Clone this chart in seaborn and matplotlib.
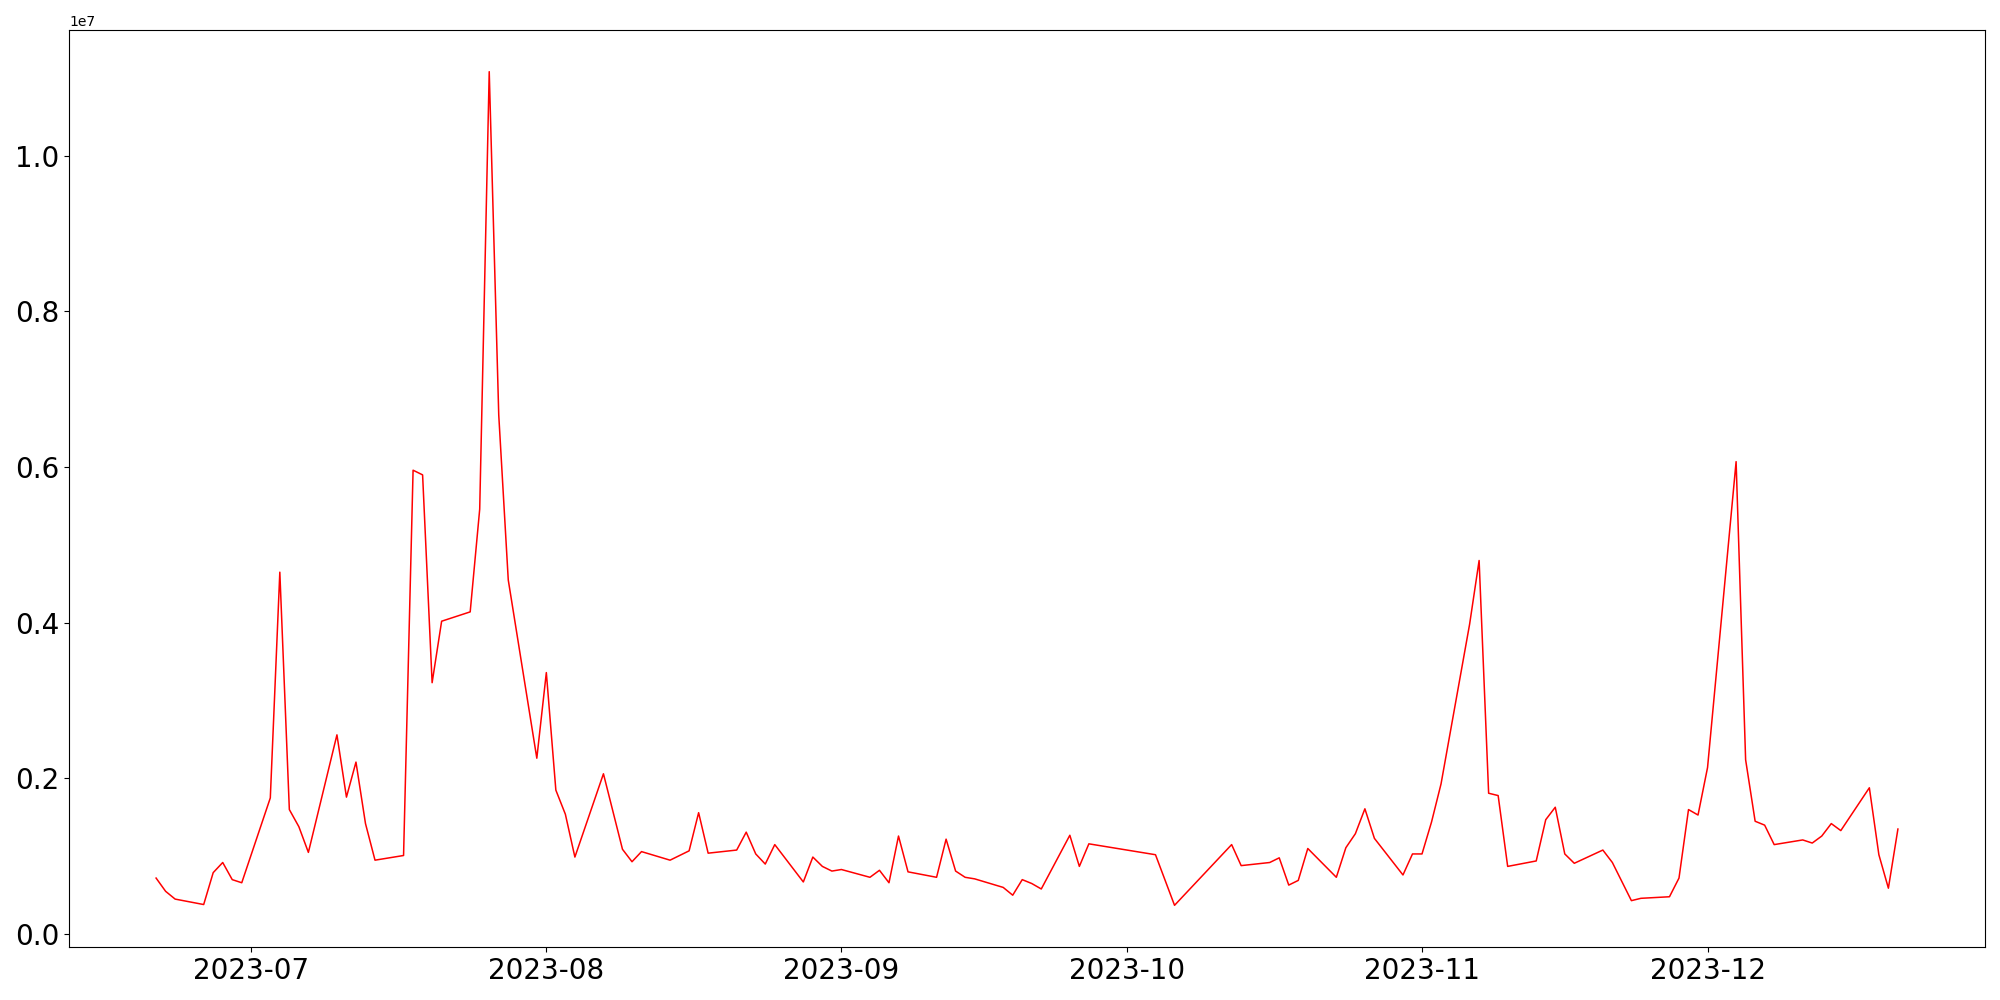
import pandas as pd
import matplotlib
matplotlib.use("Agg")
import matplotlib.pyplot as plt
import seaborn as sns

# trading days and daily values (in millions)
dates = [
    "2023-06-21", "2023-06-22", "2023-06-23", "2023-06-26", "2023-06-27", "2023-06-28", "2023-06-29", "2023-06-30",
    "2023-07-03", "2023-07-04", "2023-07-05", "2023-07-06", "2023-07-07",
    "2023-07-10", "2023-07-11", "2023-07-12", "2023-07-13", "2023-07-14",
    "2023-07-17", "2023-07-18", "2023-07-19", "2023-07-20", "2023-07-21",
    "2023-07-24", "2023-07-25", "2023-07-26", "2023-07-27", "2023-07-28",
    "2023-07-31", "2023-08-01", "2023-08-02", "2023-08-03", "2023-08-04",
    "2023-08-07", "2023-08-09", "2023-08-10", "2023-08-11",
    "2023-08-14", "2023-08-16", "2023-08-17", "2023-08-18",
    "2023-08-21", "2023-08-22", "2023-08-23", "2023-08-24", "2023-08-25",
    "2023-08-28", "2023-08-29", "2023-08-30", "2023-08-31", "2023-09-01",
    "2023-09-04", "2023-09-05", "2023-09-06", "2023-09-07", "2023-09-08",
    "2023-09-11", "2023-09-12", "2023-09-13", "2023-09-14", "2023-09-15",
    "2023-09-18", "2023-09-19", "2023-09-20", "2023-09-21", "2023-09-22",
    "2023-09-25", "2023-09-26", "2023-09-27",
    "2023-10-04", "2023-10-06",
    "2023-10-12", "2023-10-13",
    "2023-10-16", "2023-10-17", "2023-10-18", "2023-10-19", "2023-10-20",
    "2023-10-23", "2023-10-24", "2023-10-25", "2023-10-26", "2023-10-27",
    "2023-10-30", "2023-10-31", "2023-11-01", "2023-11-02", "2023-11-03",
    "2023-11-06", "2023-11-07", "2023-11-08", "2023-11-09", "2023-11-10",
    "2023-11-13", "2023-11-14", "2023-11-15", "2023-11-16", "2023-11-17",
    "2023-11-20", "2023-11-21", "2023-11-23", "2023-11-24",
    "2023-11-27", "2023-11-28", "2023-11-29", "2023-11-30", "2023-12-01",
    "2023-12-04", "2023-12-05", "2023-12-06", "2023-12-07", "2023-12-08",
    "2023-12-11", "2023-12-12", "2023-12-13", "2023-12-14", "2023-12-15",
    "2023-12-18", "2023-12-19", "2023-12-20", "2023-12-21",
]

values_m = [
    0.72, 0.55, 0.45, 0.38, 0.79, 0.92, 0.70, 0.66,
    1.75, 4.65, 1.60, 1.38, 1.05,
    2.56, 1.76, 2.21, 1.42, 0.95,
    1.01, 5.96, 5.90, 3.23, 4.02,
    4.14, 5.46, 11.08, 6.67, 4.55,
    2.26, 3.36, 1.85, 1.54, 0.99,
    2.06, 1.09, 0.93, 1.06,
    0.95, 1.07, 1.56, 1.04,
    1.08, 1.31, 1.03, 0.90, 1.15,
    0.67, 0.99, 0.87, 0.81, 0.83,
    0.73, 0.82, 0.66, 1.26, 0.80,
    0.73, 1.22, 0.81, 0.73, 0.71,
    0.60, 0.50, 0.70, 0.65, 0.58,
    1.27, 0.87, 1.16,
    1.02, 0.37,
    1.15, 0.88,
    0.92, 0.98, 0.63, 0.69, 1.10,
    0.73, 1.11, 1.29, 1.61, 1.23,
    0.76, 1.03, 1.03, 1.44, 1.93,
    3.98, 4.80, 1.81, 1.78, 0.87,
    0.94, 1.47, 1.63, 1.03, 0.91,
    1.08, 0.92, 0.43, 0.46,
    0.48, 0.72, 1.60, 1.53, 2.14,
    6.07, 2.24, 1.45, 1.40, 1.15,
    1.21, 1.17, 1.26, 1.42, 1.33,
    1.88, 1.02, 0.59, 1.35,
]

df = pd.DataFrame({"date": pd.to_datetime(dates), "value": [v * 1e6 for v in values_m]})

fig, ax = plt.subplots(figsize=(20, 10), dpi=100)
sns.lineplot(x="date", y="value", data=df, color="red", linewidth=1.1, ax=ax)
ax.set_xlabel("")
ax.set_ylabel("")
ax.tick_params(labelsize=20)
plt.subplots_adjust(left=0.0345, right=0.9925, top=0.97, bottom=0.053)
plt.savefig("out.png")
